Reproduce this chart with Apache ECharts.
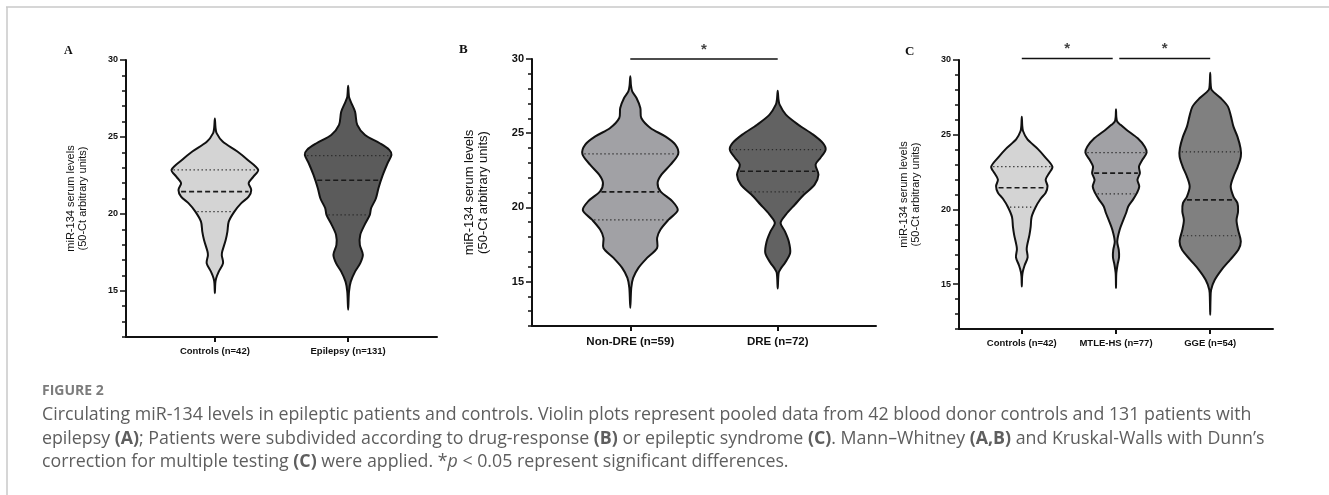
<!DOCTYPE html>
<html>
<head>
<meta charset="utf-8">
<script src="https://cdn.jsdelivr.net/npm/echarts@6/dist/echarts.min.js"></script>
<style>
html, body { margin: 0; padding: 0; background: #fff; }
#chart { width: 1329px; height: 495px; }
</style>
</head>
<body>
<div id="chart"></div>
<script>
// categories of the three panels
const catsA = ['Controls (n=42)', 'Epilepsy (n=131)']
const catsB = ['Non-DRE (n=59)', 'DRE (n=72)']
const catsC = ['Controls (n=42)', 'MTLE-HS (n=77)', 'GGE (n=54)']

// y axis ticks
const yLabels = [15, 20, 25, 30]
const yMinor = [12, 13, 14, 15, 16, 17, 18, 19, 20, 21, 22, 23, 24, 25, 26, 27, 28, 29, 30]

// violin outlines: [miR-134 level, relative half width]
const controlsShape = [[26.2, 0], [25.6, 0.015], [25.25, 0.04], [24.7, 0.18], [24.05, 0.52], [23.5, 0.76], [22.86, 1], [22.42, 0.89], [22.0, 0.78], [21.56, 0.84], [21.12, 0.78], [20.7, 0.61], [20.15, 0.45], [19.5, 0.32], [18.85, 0.29], [18.3, 0.25], [17.55, 0.17], [17.3, 0.16], [16.8, 0.19], [16.25, 0.09], [15.82, 0.03], [15.5, 0.01], [14.85, 0]]
const epilepsyShape = [[28.33, 0], [27.6, 0.02], [27.3, 0.06], [26.64, 0.16], [25.78, 0.21], [25.13, 0.39], [24.59, 0.73], [24.16, 0.95], [23.83, 1], [23.29, 0.91], [22.53, 0.8], [21.67, 0.7], [21.0, 0.64], [20.37, 0.53], [19.94, 0.5], [19.29, 0.38], [18.64, 0.28], [17.99, 0.27], [17.34, 0.34], [16.8, 0.28], [16.25, 0.16], [15.6, 0.06], [14.95, 0.02], [13.77, 0]]
const nonDreShape = [[28.83, 0], [28.2, 0.015], [27.82, 0.04], [27.37, 0.13], [26.7, 0.21], [26.02, 0.23], [25.35, 0.42], [24.78, 0.73], [24.23, 0.94], [23.6, 1], [22.88, 0.84], [22.2, 0.65], [21.64, 0.57], [21.08, 0.63], [20.4, 0.88], [19.8, 0.99], [19.17, 0.8], [18.5, 0.63], [17.94, 0.56], [17.26, 0.56], [16.59, 0.35], [15.92, 0.17], [15.24, 0.06], [14.57, 0.02], [13.22, 0]]
const dreShape = [[27.86, 0], [27.3, 0.015], [26.92, 0.04], [26.25, 0.17], [25.57, 0.43], [24.9, 0.74], [24.34, 0.94], [23.89, 1], [23.33, 0.89], [22.88, 0.79], [22.2, 0.85], [21.53, 0.77], [20.86, 0.55], [20.19, 0.36], [19.51, 0.17], [18.95, 0.06], [18.38, 0.15], [17.71, 0.23], [16.93, 0.26], [16.25, 0.15], [15.9, 0.07], [15.58, 0.02], [14.52, 0]]
const mtleShape = [[26.7, 0], [26.2, 0.01], [25.88, 0.04], [25.66, 0.15], [25.32, 0.35], [24.76, 0.71], [24.2, 0.94], [23.8, 1], [23.32, 0.86], [22.87, 0.75], [22.43, 0.78], [21.98, 0.7], [21.53, 0.76], [21.09, 0.68], [20.64, 0.55], [20.2, 0.4], [19.76, 0.33], [19.3, 0.24], [18.64, 0.12], [17.85, 0.04], [17.3, 0.09], [16.8, 0.1], [16.3, 0.05], [15.7, 0.01], [14.74, 0]]
const ggeShape = [[29.15, 0], [28.4, 0.015], [27.99, 0.05], [27.44, 0.35], [26.88, 0.58], [26.21, 0.68], [25.54, 0.76], [24.87, 0.89], [24.1, 0.99], [23.54, 1], [22.87, 0.9], [22.2, 0.76], [21.53, 0.67], [20.86, 0.76], [20.42, 0.89], [19.86, 0.91], [19.3, 0.86], [18.64, 0.91], [17.86, 1], [17.3, 0.92], [16.63, 0.65], [15.96, 0.37], [15.29, 0.15], [14.63, 0.03], [13.96, 0.01], [12.95, 0]]

// quartiles [Q1, median, Q3]
const controlsQ = [20.15, 21.45, 22.86]
const epilepsyQ = [19.94, 22.19, 23.79]
const nonDreQ = [19.15, 21.04, 23.6]
const dreQ = [21.04, 22.43, 23.89]
const mtleQ = [21.04, 22.43, 23.8]
const ggeQ = [18.24, 20.64, 23.85]

// significance bars: [from, to] in category positions, and their level
const sigB = [[0, 1]]
const sigC = [[0, 0.965], [1.035, 2]]
const sigLevelB = 30
const sigLevelC = 30.1

const HALF_W = 0.325
const FONT = 'Arial, "Liberation Sans", sans-serif'
const INK = '#111'

function widthAt(prof, v) {
    for (let k = 0; k < prof.length - 1; k++) {
        const a = prof[k], b = prof[k + 1]
        if (v <= a[0] && v >= b[0]) {
            const t = (a[0] - v) / (a[0] - b[0])
            return a[1] + (b[1] - a[1]) * t
        }
    }
    return 0
}

function violin(shapes, quarts, colors) {
    return function (params, api) {
        const i = api.value(0)
        const prof = shapes[i]
        const right = prof.map(p => api.coord([i + p[1] * HALF_W, p[0]]))
        const left = prof.slice(1, -1).reverse().map(p => api.coord([i - p[1] * HALF_W, p[0]]))
        const children = [{
            type: 'polygon',
            shape: { points: right.concat(left), smooth: 0.3 },
            style: { fill: colors[i], stroke: INK, lineWidth: 2 }
        }]
        quarts[i].forEach((q, k) => {
            const w = widthAt(prof, q) * HALF_W
            const a = api.coord([i - w, q])
            const b = api.coord([i + w, q])
            children.push({
                type: 'line',
                shape: { x1: a[0] + 2, y1: a[1], x2: b[0] - 2, y2: b[1] },
                style: k === 1
                    ? { stroke: '#1a1a1a', lineWidth: 1.6, lineDash: [5, 3] }
                    : { stroke: '#2a2a2a', lineWidth: 1.2, lineDash: [1.3, 2.7] }
            })
        })
        return { type: 'group', children: children }
    }
}

function xAxisFor(grid, cats, size, margin) {
    const idx = cats.map((c, i) => i)
    return {
        gridIndex: grid, type: 'value', min: -2 / 3, max: cats.length - 1 + 2 / 3,
        axisLine: { onZero: false, lineStyle: { color: INK, width: 2 } },
        axisTick: { customValues: idx, length: 5, lineStyle: { color: INK, width: 2 } },
        axisLabel: {
            customValues: idx, formatter: v => cats[Math.round(v)], margin: margin,
            color: INK, fontSize: size, fontWeight: 'bold', fontFamily: FONT
        },
        splitLine: { show: false }
    }
}

function yAxesFor(grid, size, nameSize, nameGap) {
    return [{
        gridIndex: grid, type: 'value', min: 12, max: 30,
        name: 'miR-134 serum levels\n(50-Ct arbitrary units)', nameLocation: 'middle', nameGap: nameGap,
        nameTextStyle: { fontSize: nameSize, fontFamily: FONT, color: INK, lineHeight: nameSize + 1 },
        axisLine: { onZero: false, lineStyle: { color: INK, width: 2 } },
        axisTick: { customValues: yLabels, length: 6, lineStyle: { color: INK, width: 1.5 } },
        axisLabel: { customValues: yLabels, margin: 8, color: INK, fontSize: size, fontWeight: 'bold', fontFamily: FONT },
        splitLine: { show: false }
    }, {
        gridIndex: grid, type: 'value', min: 12, max: 30, position: 'left',
        axisLine: { show: false, onZero: false },
        axisTick: { customValues: yMinor, length: 4, lineStyle: { color: INK, width: 1.5 } },
        axisLabel: { show: false },
        splitLine: { show: false }
    }]
}

function sigSeries(bars, level, xi, yi) {
    const out = []
    bars.forEach(b => {
        out.push({
            type: 'line', xAxisIndex: xi, yAxisIndex: yi, clip: false, silent: true,
            data: [[b[0], level], [b[1], level]], symbol: 'none',
            lineStyle: { color: INK, width: 1.5 }
        })
    })
    out.push({
        type: 'scatter', xAxisIndex: xi, yAxisIndex: yi, clip: false, silent: true, symbolSize: 0,
        data: bars.map(b => [(b[0] + b[1]) / 2, level]),
        label: { show: true, formatter: '*', position: 'top', distance: 2, color: INK, fontSize: 15, fontWeight: 'bold', fontFamily: FONT }
    })
    return out
}

const idxA = catsA.map((c, i) => [i, 0])
const idxB = catsB.map((c, i) => [i, 0])
const idxC = catsC.map((c, i) => [i, 0])

const CAP_FONT = '"Open Sans", sans-serif'
const capStyle = { fontFamily: CAP_FONT, fontSize: 17.8, fill: '#5e5e5e', verticalAlign: 'middle' }
const capRich = {
    b: { fontFamily: CAP_FONT, fontSize: 17.8, fontWeight: 'bold', color: '#444' },
    i: { fontFamily: CAP_FONT, fontSize: 17.8, fontStyle: 'italic', color: '#5e5e5e' }
}

const myChart = echarts.init(document.getElementById('chart'))
const option = {
    animation: false,
    grid: [
        { left: 126, top: 60, width: 311, height: 277 },
        { left: 532, top: 59, width: 344, height: 267 },
        { left: 959, top: 60, width: 314, height: 269 }
    ],
    xAxis: [
        xAxisFor(0, catsA, 9.5, 9),
        xAxisFor(1, catsB, 11.5, 10),
        xAxisFor(2, catsC, 9.5, 9)
    ],
    yAxis: [].concat(yAxesFor(0, 9, 11, 37), yAxesFor(1, 11, 13, 42), yAxesFor(2, 9, 11, 37)),
    series: [
        { type: 'custom', xAxisIndex: 0, yAxisIndex: 0, data: idxA, renderItem: violin([controlsShape, epilepsyShape], [controlsQ, epilepsyQ], ['#d4d4d4', '#5b5b5b']) },
        { type: 'custom', xAxisIndex: 1, yAxisIndex: 2, data: idxB, renderItem: violin([nonDreShape, dreShape], [nonDreQ, dreQ], ['#a1a1a5', '#626262']) },
        { type: 'custom', xAxisIndex: 2, yAxisIndex: 4, data: idxC, renderItem: violin([controlsShape, mtleShape, ggeShape], [controlsQ, mtleQ, ggeQ], ['#d4d4d4', '#a1a1a5', '#808080']) }
    ].concat(sigSeries(sigB, sigLevelB, 1, 2), sigSeries(sigC, sigLevelC, 2, 4)),
    graphic: [
        { type: 'line', shape: { x1: 6, y1: 7, x2: 1329, y2: 7 }, style: { stroke: '#c8c8c8', lineWidth: 1.5 } },
        { type: 'line', shape: { x1: 7, y1: 7, x2: 7, y2: 495 }, style: { stroke: '#c8c8c8', lineWidth: 1.5 } },
        { type: 'text', x: 64, y: 45, style: { text: 'A', font: 'bold 12px "Liberation Serif", "DejaVu Serif", serif', fill: INK } },
        { type: 'text', x: 459, y: 43, style: { text: 'B', font: 'bold 13px "Liberation Serif", "DejaVu Serif", serif', fill: INK } },
        { type: 'text', x: 905, y: 45, style: { text: 'C', font: 'bold 13px "Liberation Serif", "DejaVu Serif", serif', fill: INK } },
        { type: 'text', x: 42, y: 391, style: { text: 'FIGURE 2', fontFamily: CAP_FONT, fontSize: 14, fontWeight: 'bold', fill: '#7c7c7c', verticalAlign: 'middle' } },
        { type: 'text', x: 42, y: 415, style: Object.assign({ text: 'Circulating miR-134 levels in epileptic patients and controls. Violin plots represent pooled data from 42 blood donor controls and 131 patients with', rich: capRich }, capStyle) },
        { type: 'text', x: 42, y: 438.5, style: Object.assign({ text: 'epilepsy {b|(A)}; Patients were subdivided according to drug-response {b|(B)} or epileptic syndrome {b|(C)}. Mann\u2013Whitney {b|(A,B)} and Kruskal-Walls with Dunn\u2019s', rich: capRich }, capStyle) },
        { type: 'text', x: 42, y: 462, style: Object.assign({ text: 'correction for multiple testing {b|(C)} were applied. *{i|p} < 0.05 represent significant differences.', rich: capRich }, capStyle) }
    ]
}
myChart.setOption(option)
</script>
</body>
</html>
